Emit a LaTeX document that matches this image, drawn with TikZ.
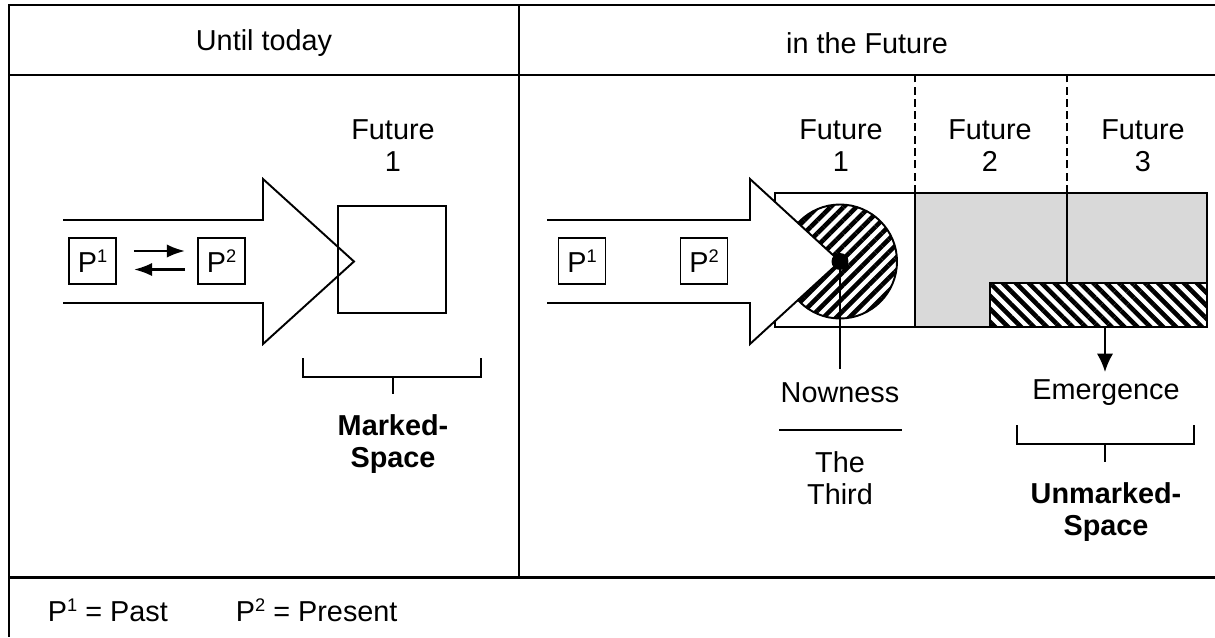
\documentclass[tikz,border=0pt]{standalone}
\usepackage{fontspec}
\setmainfont{Liberation Sans}
\usetikzlibrary{arrows.meta,patterns.meta}

\definecolor{futgray}{HTML}{D9D9D9}

\newcommand{\psup}[1]{\raisebox{2.9pt}{\fontsize{5.2}{5.2}\selectfont #1}}

\tikzset{
  frame/.style={line width=0.85pt},
  pbox/.style={draw, line width=0.5pt, minimum width=0.47cm, minimum height=0.46cm, inner sep=0pt},
  txt/.style={align=center, font=\fontsize{8.2}{9.1}\selectfont},
  boldtxt/.style={align=center, font=\fontsize{8.2}{9.1}\selectfont\bfseries},
  hatchup/.style={pattern={Lines[angle=45,distance=2.6pt,line width=1.3pt]}},
  hatchdown/.style={pattern={Lines[angle=-45,distance=2.6pt,line width=1.3pt]}},
  futdash/.style={dash pattern=on 2.3pt off 1.2pt},
  smallarr/.style={line width=0.75pt, -{Latex[length=5.2pt,width=3.8pt]}},
}

\begin{document}
\begin{tikzpicture}[line width=0.55pt, every node/.style={txt}]

\useasboundingbox (0,0) rectangle (12.15,6.37);

% table frame
\draw[frame] (12.15,6.32) -- (0.09,6.32) -- (0.09,0);
\draw[frame] (0.09,5.62) -- (12.15,5.62);
\draw[frame] (0.09,0.60) -- (12.15,0.60);
\draw[frame] (5.19,6.32) -- (5.19,0.60);

\node[] (hdToday) at (2.64,5.94) {Until today};
\node[] (hdFuture) at (8.67,5.94) {in the Future};

% until today
\draw (0.63,4.17) -- (2.63,4.17) -- (2.63,4.58) -- (3.54,3.755) -- (2.63,2.93) -- (2.63,3.34) -- (0.63,3.34);
\draw (3.38,3.24) rectangle (4.46,4.31);

\node[pbox] (pastL) at (0.925,3.76) {P\psup{1}};
\node[pbox] (presL) at (2.215,3.76) {P\psup{2}};
\draw[smallarr, shorten <=0.17cm, shorten >=0.12cm] ([yshift=0.10cm]pastL.east) -- ([yshift=0.10cm]presL.west);
\draw[smallarr, shorten <=0.12cm, shorten >=0.17cm] ([yshift=-0.085cm]presL.west) -- ([yshift=-0.085cm]pastL.east);

\node[] (futL) at (3.93,4.91) {Future\\1};

\draw (3.03,2.79) -- (3.03,2.60) -- (4.81,2.60) -- (4.81,2.79);
\draw (3.93,2.60) -- (3.93,2.43);
\node[boldtxt] (marked) at (3.93,1.93) {Marked-\\Space};

% in the future
\fill[futgray] (9.15,3.10) rectangle (12.07,4.44);
\draw (7.75,3.10) rectangle (12.07,4.44);
\draw (9.15,3.10) -- (9.15,4.44);
\draw[preaction={fill=white}, hatchdown] (9.90,3.10) rectangle (12.07,3.54);
\draw (10.67,3.54) -- (10.67,4.44);
\draw[futdash] (9.15,4.44) -- (9.15,5.62);
\draw[futdash] (10.67,4.44) -- (10.67,5.62);

\coordinate (now) at (8.40,3.755);
\draw[preaction={fill=white}, hatchup] (now) circle[radius=0.57];

\fill[white] (5.47,4.17) -- (7.50,4.17) -- (7.50,4.58) -- (now) -- (7.50,2.93) -- (7.50,3.34) -- (5.47,3.34) -- cycle;
\draw (5.47,4.17) -- (7.50,4.17) -- (7.50,4.58) -- (now) -- (7.50,2.93) -- (7.50,3.34) -- (5.47,3.34);

\node[pbox] (pastR) at (5.82,3.76) {P\psup{1}};
\node[pbox] (presR) at (7.04,3.76) {P\psup{2}};

\node[] (fut1) at (8.41,4.91) {Future\\1};
\node[] (fut2) at (9.90,4.91) {Future\\2};
\node[] (fut3) at (11.43,4.91) {Future\\3};

\coordinate (nowEnd) at (8.40,2.68);
\filldraw (now) circle[radius=0.075];
\draw (now) -- (nowEnd);
\node[] (nowness) at (8.40,2.44) {Nowness};
\draw (7.79,2.07) -- (9.02,2.07);
\node[] (third) at (8.40,1.59) {The\\Third};

\coordinate (barS) at (11.05,3.10);
\coordinate (emTip) at (11.05,2.65);
\draw[-{Latex[length=5.2pt,width=4.6pt]}] (barS) -- (emTip);
\node[] (emerg) at (11.06,2.44) {Emergence};
\draw (10.17,2.12) -- (10.17,1.93) -- (11.94,1.93) -- (11.94,2.12);
\draw (11.05,1.93) -- (11.05,1.75);
\node[boldtxt] (unmarked) at (11.06,1.245) {Unmarked-\\Space};

% legend
\node[anchor=west, inner sep=0pt] (legPast) at (0.47,0.27) {P\psup{1} = Past};
\node[anchor=west, inner sep=0pt] (legPres) at (2.35,0.27) {P\psup{2} = Present};

\end{tikzpicture}
\end{document}
